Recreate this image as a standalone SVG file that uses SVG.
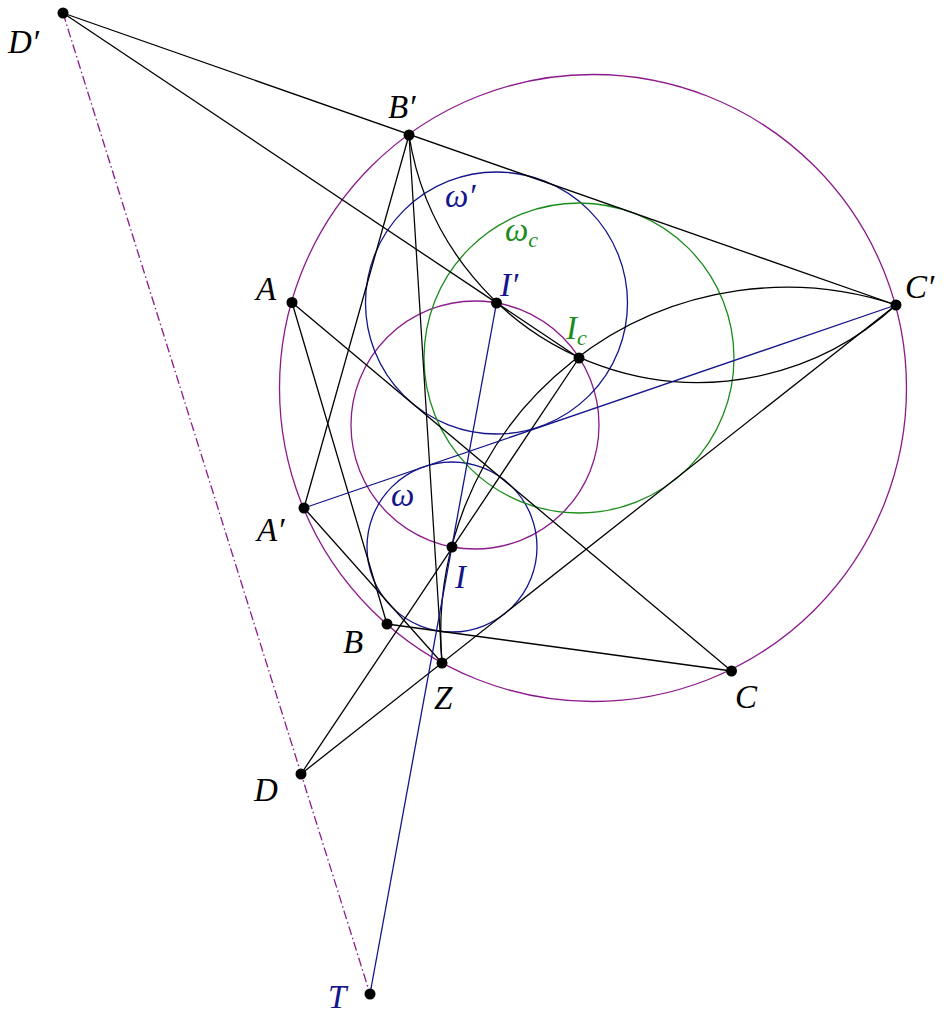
<svg xmlns="http://www.w3.org/2000/svg" width="949" height="1015" viewBox="0 0 949 1015">
<style>
.bk{stroke:#000;stroke-width:1.3;fill:none}
.bl{stroke:#14148c;stroke-width:1.3;fill:none}
.pu{stroke:#8c1a8c;stroke-width:1.3;fill:none}
.gr{stroke:#1a8c1a;stroke-width:1.3;fill:none}
.dd{stroke:#8c1a8c;stroke-width:1.3;fill:none;stroke-dasharray:9 3 1.5 3}
.pt{fill:#000}
.lb{font-family:"Liberation Serif",serif;font-style:italic;font-size:33px;fill:#000}
.lbb{fill:#14148c}
.lbg{fill:#1a8c1a}
.sub{font-size:22px}
</style>
<rect width="949" height="1015" fill="#fff"/>
<g id="circles">
<circle class="pu" cx="593" cy="388" r="313.5"/>
<circle class="pu" cx="475" cy="425" r="124"/>
<circle class="bl" cx="496.5" cy="303" r="131"/>
<circle class="bl" cx="452" cy="547" r="85"/>
<circle class="gr" cx="579" cy="358" r="155"/>
</g>
<g id="connectors">
<line class="dd" x1="63" y1="13" x2="370" y2="994"/>
<line class="bk" x1="63" y1="13" x2="896" y2="305"/>
<line class="bk" x1="63" y1="13" x2="579" y2="358"/>
<line class="bk" x1="409" y1="135" x2="304" y2="508"/>
<line class="bk" x1="409" y1="135" x2="442" y2="663"/>
<line class="bk" x1="304" y1="508" x2="442" y2="663"/>
<line class="bk" x1="292" y1="302.5" x2="387" y2="624"/>
<line class="bk" x1="387" y1="624" x2="731.5" y2="671"/>
<line class="bk" x1="292" y1="302.5" x2="731.5" y2="671"/>
<line class="bk" x1="301" y1="774" x2="579" y2="358"/>
<line class="bk" x1="301" y1="774" x2="896" y2="305"/>
<path class="bk" d="M409 135 A292.3 292.3 0 0 0 896 305"/>
<path class="bk" d="M896 305 A346 346 0 0 0 442 663"/>
<line class="bl" x1="304" y1="508" x2="896" y2="305"/>
<line class="bl" x1="496.5" y1="303" x2="370" y2="994"/>
</g>
<g id="points">
<g id="pDp"><circle class="pt" cx="63" cy="13" r="5.5"/><text class="lb" x="8" y="53">D′</text></g>
<g id="pBp"><circle class="pt" cx="409" cy="135" r="5.5"/><text class="lb" x="388" y="118">B′</text></g>
<g id="pA"><circle class="pt" cx="292" cy="302.5" r="5.5"/><text class="lb" x="256" y="300">A</text></g>
<g id="pIp"><circle class="pt" cx="496.5" cy="303" r="5.5"/><text class="lb lbb" x="500" y="296">I′</text></g>
<g id="pIc"><circle class="pt" cx="579" cy="358" r="5.5"/><text class="lb lbg" x="566" y="339">I<tspan class="sub" dy="6">c</tspan></text></g>
<g id="pCp"><circle class="pt" cx="896" cy="305" r="5.5"/><text class="lb" x="905" y="298">C′</text></g>
<g id="pAp"><circle class="pt" cx="304" cy="508" r="5.5"/><text class="lb" x="257" y="541">A′</text></g>
<g id="pI"><circle class="pt" cx="452" cy="547" r="5.5"/><text class="lb lbb" x="455" y="588">I</text></g>
<g id="pB"><circle class="pt" cx="387" cy="624" r="5.5"/><text class="lb" x="343" y="653">B</text></g>
<g id="pZ"><circle class="pt" cx="442" cy="663" r="5.5"/><text class="lb" x="434" y="709">Z</text></g>
<g id="pC"><circle class="pt" cx="731.5" cy="671" r="5.5"/><text class="lb" x="735" y="708">C</text></g>
<g id="pD"><circle class="pt" cx="301" cy="774" r="5.5"/><text class="lb" x="254" y="801">D</text></g>
<g id="pT"><circle class="pt" cx="370" cy="994" r="5.5"/><text class="lb lbb" x="328" y="1008">T</text></g>
</g>
<g id="circle-labels">
<text class="lb lbb" x="445" y="207">ω′</text>
<text class="lb lbg" x="505" y="241">ω<tspan class="sub" dy="6">c</tspan></text>
<text class="lb lbb" x="391" y="506">ω</text>
</g>
</svg>
